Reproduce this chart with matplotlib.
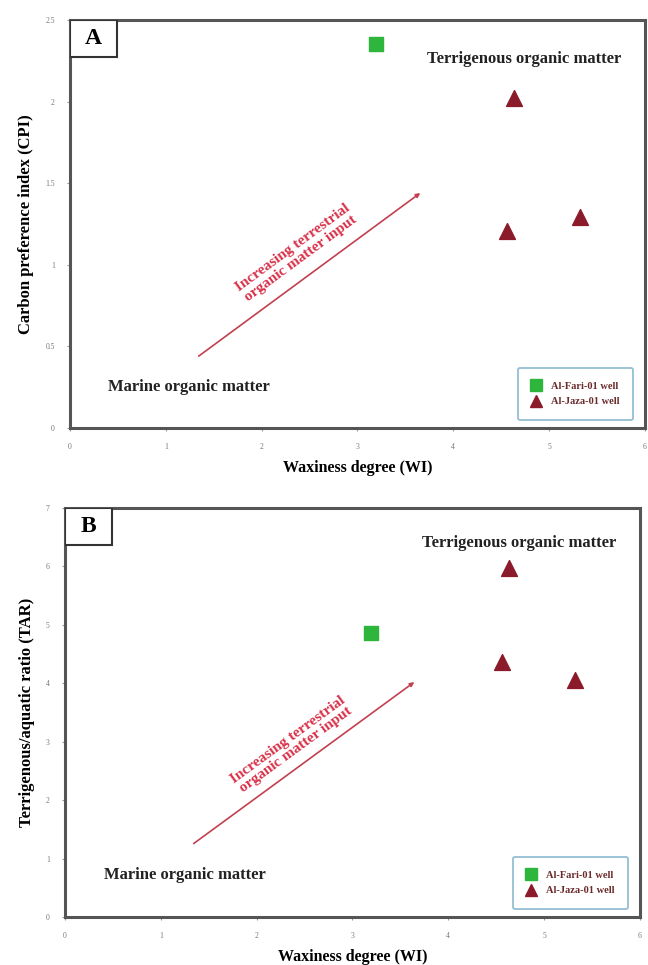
import math
import matplotlib.pyplot as plt
from matplotlib.lines import Line2D
from matplotlib.patches import Rectangle

plt.rcParams['font.family'] = ['Liberation Serif', 'DejaVu Serif']

# data
wells = ['Al-Fari-01 well', 'Al-Jaza-01 well']
wi_fari = [3.19]
wi_jaza = [4.64, 4.56, 5.32]
cpi_fari = [2.35]
cpi_jaza = [2.02, 1.21, 1.29]
tar_fari = [4.87]
tar_jaza = [5.98, 4.36, 4.05]

green = '#2db53c'
maroon = '#8b1a2a'
red = '#d9314a'


def panel(ax, x1, y1, x2, y2, ymax, ystep, letter, ylabel, arrow, terr_xy, mar_xy, text_xy):
    ax.scatter(x1, y1, marker='s', s=110, color=green, zorder=3)
    ax.scatter(x2, y2, marker='^', s=130, color=maroon, zorder=3)
    ax.set_xlim(0, 6)
    ax.set_ylim(0, ymax)
    yt = [i * ystep for i in range(int(round(ymax / ystep)) + 1)]
    ax.set_yticks(yt)
    ax.set_yticklabels([('%g' % v) for v in yt])
    ax.set_xticks(range(7))
    ax.tick_params(labelsize=5.5, labelcolor='#777777', length=2, color='#999999', pad=9)
    for s in ax.spines.values():
        s.set_linewidth(2.2)
        s.set_color('#555555')
    ax.set_ylabel(ylabel, fontsize=12, fontweight='bold', labelpad=8)
    ax.set_xlabel('Waxiness degree (WI)', fontsize=11.5, fontweight='bold', labelpad=6)
    # boxed panel letter
    bw, bh = 47 / 575.0, 37 / 408.0
    ax.add_patch(Rectangle((0, 1 - bh), bw, bh, transform=ax.transAxes, fc='white',
                           ec='#333333', lw=1.5, zorder=4))
    ax.text(bw / 2, 1 - bh / 2, letter, transform=ax.transAxes, fontsize=17,
            fontweight='bold', ha='center', va='center', zorder=5)
    (ax0, ay0), (ax1, ay1) = arrow
    ax.annotate('', xy=(ax1, ay1), xytext=(ax0, ay0),
                arrowprops=dict(arrowstyle='-|>', color='#c24050', lw=1.2, mutation_scale=6))
    # rotation in screen space
    p0 = ax.transData.transform((ax0, ay0))
    p1 = ax.transData.transform((ax1, ay1))
    ang = math.degrees(math.atan2(p1[1] - p0[1], p1[0] - p0[0]))
    ax.text(text_xy[0], text_xy[1], 'Increasing terrestrial\norganic matter input',
            fontsize=11, fontweight='bold', color=red, rotation=ang,
            rotation_mode='anchor', ha='center', va='center', linespacing=1.0)
    ax.text(terr_xy[0], terr_xy[1], 'Terrigenous organic matter', fontsize=12,
            fontweight='bold', ha='center', va='center', color='#222222')
    ax.text(mar_xy[0], mar_xy[1], 'Marine organic matter', fontsize=12,
            fontweight='bold', ha='center', va='center', color='#222222')
    handles = [Line2D([], [], marker='s', color=green, ls='none', markersize=8),
               Line2D([], [], marker='^', color=maroon, ls='none', markersize=9)]
    leg = ax.legend(handles, wells, loc='lower right', fontsize=7.5, frameon=True,
                    fancybox=True, borderpad=1.3, handletextpad=0.9, labelspacing=0.6,
                    bbox_to_anchor=(0.983, 0.015), handlelength=1.0, borderaxespad=0.2)
    leg.get_frame().set_edgecolor('#7ab0c8')
    leg.get_frame().set_linewidth(1.3)
    for t in leg.get_texts():
        t.set_color('#6a2a2a')
        t.set_fontweight('bold')


fig = plt.figure(figsize=(6.48, 9.65), dpi=100)
axA = fig.add_axes([0.108, 0.5565, 0.887, 0.4228])
axB = fig.add_axes([0.1003, 0.0497, 0.887, 0.4238])

panel(axA, wi_fari, cpi_fari, wi_jaza, cpi_jaza, 2.5, 0.5, 'A',
      'Carbon preference index (CPI)',
      ((1.32, 0.43), (3.68, 1.45)), (4.74, 2.26), (1.24, 0.25), (2.37, 1.07))
panel(axB, wi_fari, tar_fari, wi_jaza, tar_jaza, 7, 1, 'B',
      'Terrigenous/aquatic ratio (TAR)',
      ((1.32, 1.23), (3.67, 4.05)), (4.74, 6.4), (1.25, 0.72), (2.37, 2.95))

fig.savefig('out.png', dpi=100)
